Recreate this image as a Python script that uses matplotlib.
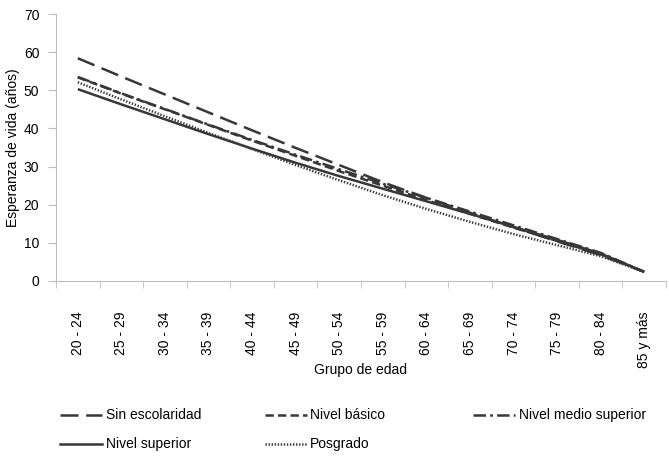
import matplotlib
matplotlib.use("Agg")
import matplotlib.pyplot as plt
from matplotlib.lines import Line2D

plt.rcParams["font.family"] = ["Liberation Sans", "DejaVu Sans"]
plt.rcParams["lines.scale_dashes"] = False

age_groups = ["20 - 24", "25 - 29", "30 - 34", "35 - 39", "40 - 44", "45 - 49", "50 - 54",
              "55 - 59", "60 - 64", "65 - 69", "70 - 74", "75 - 79", "80 - 84", "85 y más"]

sin_escolaridad = [58.4, 53.6, 48.9, 44.2, 39.5, 34.9, 30.4, 25.9, 21.8, 17.9, 14.1, 10.4, 6.8, 2.4]
nivel_basico = [53.4, 49.1, 45.0, 40.9, 36.8, 32.8, 28.8, 25.0, 21.2, 17.6, 14.0, 10.5, 7.0, 2.4]
nivel_medio_superior = [53.5, 49.2, 45.1, 41.0, 37.0, 33.1, 29.3, 25.5, 21.8, 18.2, 14.6, 11.0, 7.4, 2.4]
nivel_superior = [50.3, 46.3, 42.4, 38.5, 34.7, 31.0, 27.5, 24.2, 20.9, 17.6, 14.2, 10.8, 7.2, 2.4]
posgrado = [52.1, 47.6, 43.2, 38.8, 34.6, 30.4, 26.4, 22.5, 18.9, 15.5, 12.3, 9.4, 6.5, 2.4]

W, H = 669, 469
color = "#383838"
spine = "#bdbdbd"

series = [
    ("Sin escolaridad", sin_escolaridad, (0, (13, 5.5))),
    ("Nivel básico", nivel_basico, (0, (6, 3))),
    ("Nivel medio superior", nivel_medio_superior, (0, (9, 3, 2, 3))),
    ("Nivel superior", nivel_superior, "-"),
    ("Posgrado", posgrado, (0, (1, 1.2))),
]

fig = plt.figure(figsize=(W / 100, H / 100), dpi=100)
ax = fig.add_axes([56 / W, (H - 281) / H, 610 / W, 267 / H])

x = list(range(len(age_groups)))
for name, values, ls in series:
    ax.plot(x, values, color=color, lw=1.8, linestyle=ls, solid_capstyle="butt")

ax.set_xlim(-0.5, len(age_groups) - 0.5)
ax.set_ylim(0, 70)
ax.set_yticks(range(0, 71, 10))
ax.set_xticks(x)
ax.set_xticklabels(age_groups, rotation=90, fontsize=10)
ax.tick_params(axis="x", which="major", length=0, pad=22)
ax.set_xticks([i - 0.5 for i in range(len(age_groups) + 1)], minor=True)
ax.tick_params(axis="x", which="minor", length=5, color=spine, direction="out")
ax.tick_params(axis="y", length=6, color=spine, labelsize=10, pad=6)
for side in ["top", "right"]:
    ax.spines[side].set_visible(False)
for side in ["left", "bottom"]:
    ax.spines[side].set_color(spine)

ax.set_ylabel("Esperanza de vida (años)", fontsize=10, labelpad=3)
fig.text((56 + 666) / 2 / W, 1 - 370 / H, "Grupo de edad", ha="center", va="center", fontsize=10)

# legend drawn by hand to copy the uneven column layout
entries = [
    (60, 415, 106), (265, 415, 310), (473, 415, 519),
    (60, 444, 106), (265, 444, 310),
]
for (hx, hy, tx), (name, values, ls) in zip(entries, series):
    fig.add_artist(Line2D([hx / W, (hx + 42) / W], [1 - hy / H, 1 - hy / H],
                          transform=fig.transFigure, color=color, lw=1.8, linestyle=ls))
    fig.text(tx / W, 1 - hy / H, name, ha="left", va="center", fontsize=10)

fig.savefig("out.png", dpi=100)
